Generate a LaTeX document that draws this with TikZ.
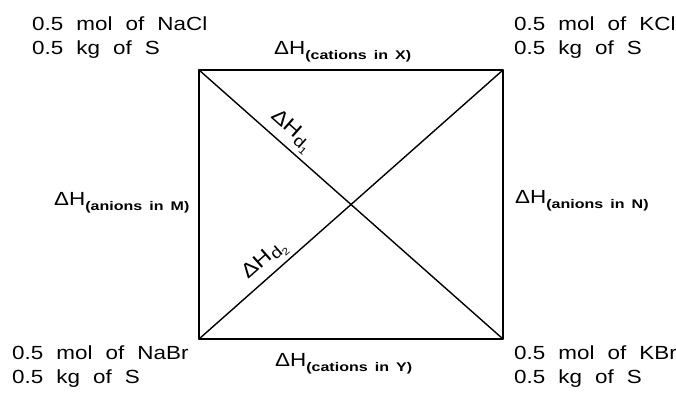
\documentclass[tikz,border=0pt]{standalone}
\usepackage{fontspec}
\setmainfont{Liberation Sans}[FakeStretch=1.18, WordSpace=2.1]
\newfontfamily\subf{Liberation Sans}[FakeStretch=1.28, WordSpace=1.6]
\newcommand\dHsub[1]{{\fontsize{19}{19}\selectfont ΔH}\raisebox{-5pt}{\subf\bfseries\fontsize{12.5}{12.5}\selectfont #1}}
\newcommand\dHd[1]{{\fontsize{20}{20}\selectfont ΔH}\raisebox{-4pt}{\fontsize{16}{16}\selectfont d\raisebox{-3pt}{\fontsize{10}{10}\selectfont #1}}}
\begin{document}
\begin{tikzpicture}[x=1pt,y=1pt,
  lbl/.style={inner sep=0pt, anchor=base west, font=\fontsize{19}{24}\selectfont},
  edge/.style={line width=1.4pt, line cap=round, line join=round}]
\useasboundingbox (0,0) rectangle (676,397);
% corners of square
\coordinate (tl) at (199,327);
\coordinate (tr) at (503,327);
\coordinate (bl) at (199,58);
\coordinate (br) at (503,58);
% square and diagonals
\draw[edge] (tl) -- (tr) -- (br) -- (bl) -- cycle;
\draw[edge] (tl) -- (br) node[pos=0.27, sloped, above=4pt, inner sep=0pt] (d1) {\dHd{1}};
\draw[edge] (bl) -- (tr) node[pos=0.25, sloped, above=4pt, inner sep=0pt] (d2) {\dHd{2}};
% corner labels
\node[lbl] (tla) at (32,366) {0.5 mol of NaCl};
\node[lbl] (tlb) at (32,342) {0.5 kg of S};
\node[lbl] (tra) at (514,366) {0.5 mol of KCl};
\node[lbl] (trb) at (514,342) {0.5 kg of S};
\node[lbl] (bla) at (12,38) {0.5 mol of NaBr};
\node[lbl] (blb) at (12,14) {0.5 kg of S};
\node[lbl] (bra) at (514,38) {0.5 mol of KBr};
\node[lbl] (brb) at (514,14) {0.5 kg of S};
% side labels
\node[lbl] (top) at (274,342) {\dHsub{(cations in X)}};
\node[lbl] (bot) at (275,31) {\dHsub{(cations in Y)}};
\node[lbl] (lft) at (54,192) {\dHsub{(anions in M)}};
\node[lbl] (rgt) at (515,194) {\dHsub{(anions in N)}};
\end{tikzpicture}
\end{document}
